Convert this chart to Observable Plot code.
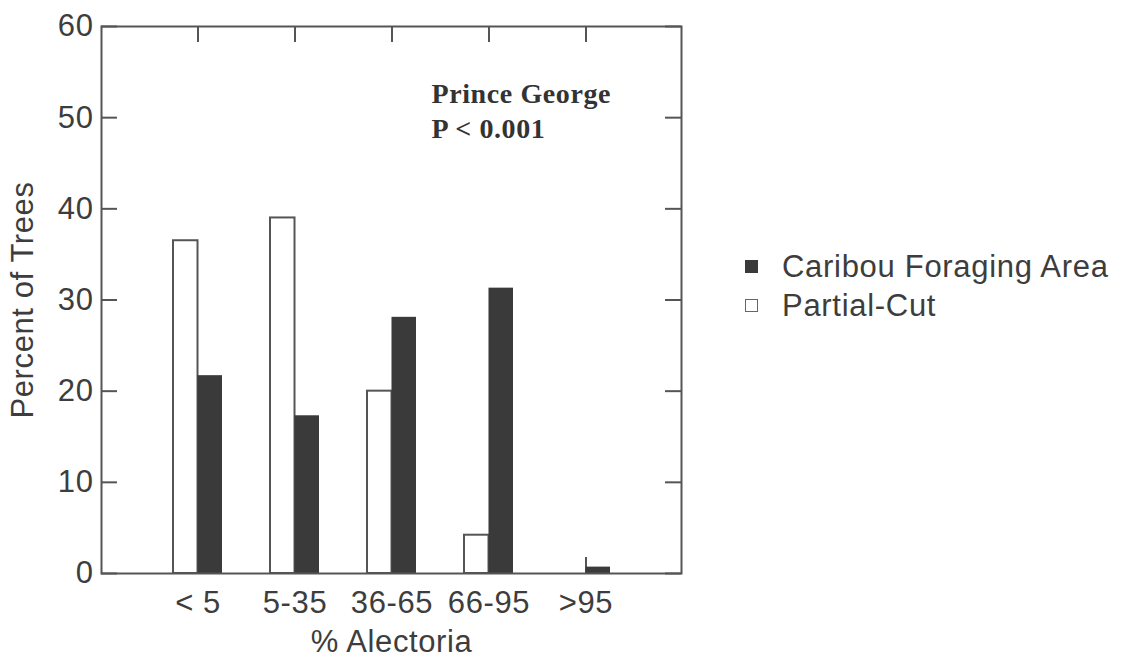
<!DOCTYPE html>
<html>
<head>
<meta charset="utf-8">
<script src="https://cdn.jsdelivr.net/npm/d3@7"></script>
<script src="https://cdn.jsdelivr.net/npm/@observablehq/plot@0.6"></script>
<style>
  html, body { margin: 0; padding: 0; background: #fff; }
  #wrap { position: relative; width: 1123px; height: 660px; overflow: hidden; }
  #chart { position: absolute; left: 0; top: 0; }
  #legend { position: absolute; left: 745px; top: 247px; font-family: "Liberation Sans", Arial, sans-serif;
            font-size: 31px; letter-spacing: 0.7px; color: #3d3d3d; }
  .row { display: flex; align-items: center; height: 39px; }
  .sw { width: 13px; height: 13px; margin-right: 24px; box-sizing: border-box; }
</style>
</head>
<body>
<div id="wrap">
  <div id="chart"></div>
  <div id="legend"></div>
</div>
<script>
// ---- data ----
const categories = ["< 5", "5-35", "36-65", "66-95", ">95"];
const partialCut = [36.5, 39.0, 20.0, 4.2, 0];
const caribou = [21.7, 17.3, 28.1, 31.3, 0.7];
const yTicks = [0, 10, 20, 30, 40, 50, 60];
const seriesNames = ["Caribou Foraging Area", "Partial-Cut"];
const seriesFill = ["#3a3a3a", "#ffffff"];
const annotation = ["Prince George", "P < 0.001"];

// ---- layout ----
const W = 700, H = 660;
const mL = 101, mR = 19, mT = 26, mB = 87;
const plotW = W - mL - mR, plotH = H - mT - mB;
const padIn = 0.495, padOut = 0.737;
const bw = d3.scaleBand().domain(categories).range([mL, W - mR])
  .paddingInner(padIn).paddingOuter(padOut).bandwidth();

const rows = [];
categories.forEach((c, i) => {
  rows.push({cat: c, series: seriesNames[0], value: caribou[i]});
  rows.push({cat: c, series: seriesNames[1], value: partialCut[i]});
});

const lineColor = "#555";
const textColor = "#3d3d3d";

const chart = Plot.plot({
  width: W, height: H,
  marginLeft: mL, marginRight: mR, marginTop: mT, marginBottom: mB,
  style: {fontFamily: "'Liberation Sans', Arial, sans-serif", fontSize: "31px", color: textColor, letterSpacing: "0.6px", background: "white"},
  x: {type: "band", domain: categories, paddingInner: padIn, paddingOuter: padOut},
  y: {domain: [0, 60], ticks: yTicks},
  marks: [
    // inward ticks: left, right, top, bottom
    Plot.tickY(yTicks, {y: d => d, insetRight: plotW - 16, stroke: lineColor, strokeWidth: 2}),
    Plot.tickY(yTicks, {y: d => d, insetLeft: plotW - 16, stroke: lineColor, strokeWidth: 2}),
    Plot.tickX(categories, {x: d => d, insetBottom: plotH - 16, stroke: lineColor, strokeWidth: 2}),
    Plot.tickX(categories, {x: d => d, insetTop: plotH - 16, stroke: lineColor, strokeWidth: 2}),
    Plot.barY(rows.filter(d => d.series === seriesNames[1]), {
      x: "cat", y: "value", insetRight: bw / 2, fill: seriesFill[1], stroke: lineColor, strokeWidth: 2
    }),
    Plot.barY(rows.filter(d => d.series === seriesNames[0]), {
      x: "cat", y: "value", insetLeft: bw / 2, fill: seriesFill[0]
    }),
    Plot.frame({stroke: lineColor, strokeWidth: 2}),
    Plot.axisY({ticks: yTicks, tickSize: 0, tickPadding: 8, label: "Percent of Trees", labelAnchor: "center", labelArrow: "none", labelOffset: 91}),
    Plot.axisX({tickSize: 0, tickPadding: 17, label: "% Alectoria", labelAnchor: "center", labelArrow: "none", labelOffset: 78}),
    Plot.text([annotation.join("\n")], {
      text: d => d, frameAnchor: "top-left", dx: 330, dy: 51, textAnchor: "start", lineAnchor: "top",
      fontFamily: "'Liberation Serif', 'Times New Roman', serif", fontWeight: "bold", fontSize: 28,
      lineHeight: 1.27, fill: "#333", style: "letter-spacing:0px"
    })
  ]
});
document.getElementById("chart").appendChild(chart);

// legend
const legend = d3.select("#legend");
seriesNames.forEach((s, i) => {
  const row = legend.append("div").attr("class", "row");
  row.append("div").attr("class", "sw")
    .style("background", seriesFill[i])
    .style("border", `1.5px solid ${i === 0 ? "#3a3a3a" : "#666"}`);
  row.append("span").text(s);
});
</script>
</body>
</html>
